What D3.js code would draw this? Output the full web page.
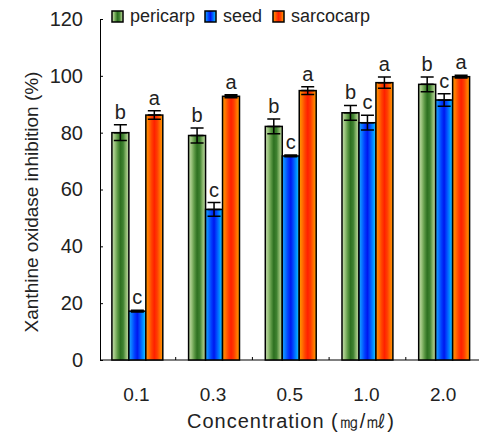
<!DOCTYPE html>
<html>
<head>
<meta charset="utf-8">
<script src="https://cdn.jsdelivr.net/npm/d3@7"></script>
<style>
  body { margin: 0; background: #fff; }
  text { font-family: "Liberation Sans", Arial, sans-serif; fill: #222; }
</style>
</head>
<body>
<script>
let width = 479,
    height = 441;

// data
const concentrations = ["0.1", "0.3", "0.5", "1.0", "2.0"];
const series = ["pericarp", "seed", "sarcocarp"];
const pericarp = [80, 79, 82.2, 87, 97];
const seed = [17.2, 53, 71.8, 83.5, 91.5];
const sarcocarp = [86.2, 92.8, 94.8, 97.6, 99.7];
const pericarpErr = [2.8, 2.6, 2.6, 2.6, 2.6];
const seedErr = [0.3, 2.4, 0.3, 2.6, 2.2];
const sarcocarpErr = [1.5, 0.5, 1.4, 2, 0.5];
const letters = ["b", "c", "a"];
const yTicks = [0, 20, 40, 60, 80, 100, 120];

const values = [pericarp, seed, sarcocarp];
const errors = [pericarpErr, seedErr, sarcocarpErr];

const margin = {top: 19, left: 100, bottom: 360};

const svg = d3.select("body").append("svg")
    .attr("width", width)
    .attr("height", height);

// striped fills
const stripes = {
    pericarp: ["#c4dcae", "#9cc47e", "#5e9a46", "#2d7020", "#3f8230", "#8cb86e", "#c0daa8"],
    seed: ["#1aa8ff", "#0a78ff", "#0040ff", "#0018ee", "#0050ff", "#0090ff", "#20c8ff"],
    sarcocarp: ["#ff9800", "#ff7400", "#ff4400", "#ff2000", "#ff3c00", "#ff7000", "#ff9c00"]
};
const defs = svg.append("defs");
series.forEach(function (s) {
    const grad = defs.append("linearGradient")
        .attr("id", "grad-" + s)
        .attr("x1", 0).attr("x2", 1).attr("y1", 0).attr("y2", 0);
    stripes[s].forEach(function (c, i) {
        grad.append("stop")
            .attr("offset", i / (stripes[s].length - 1))
            .attr("stop-color", c);
    });
});

const x0 = d3.scaleBand()
    .domain(concentrations)
    .range([99, 482.5])
    .padding(0);

const x1 = d3.scaleBand()
    .domain(series)
    .range([0, x0.bandwidth()])
    .paddingInner(0)
    .paddingOuter(0.76);

const y = d3.scaleLinear()
    .domain([0, 120])
    .range([margin.bottom, margin.top]);

// y axis
const yAxis = svg.append("g")
    .attr("transform", "translate(" + margin.left + ",0)")
    .call(d3.axisLeft(y).tickValues(yTicks).tickSize(-3).tickPadding(17));
yAxis.select(".domain").attr("stroke", "#000");
yAxis.selectAll(".tick line").attr("stroke", "#000");
yAxis.selectAll(".tick text")
    .style("font-size", "20px")
    .attr("fill", "#222");

// x axis
const xAxis = svg.append("g")
    .attr("transform", "translate(0," + margin.bottom + ")");
xAxis.append("line")
    .attr("x1", margin.left).attr("x2", width)
    .attr("stroke", "#000");
xAxis.selectAll(".sep")
    .data(concentrations.slice(1))
    .enter().append("line")
    .attr("x1", d => x0(d)).attr("x2", d => x0(d))
    .attr("y1", 0).attr("y2", -3)
    .attr("stroke", "#000");
xAxis.selectAll(".lbl")
    .data(concentrations)
    .enter().append("text")
    .attr("x", d => x0(d) + x0.bandwidth() / 2 - 1)
    .attr("y", 41)
    .attr("text-anchor", "middle")
    .style("font-size", "19px")
    .text(d => d);

// bars
const groups = svg.append("g").selectAll("g")
    .data(concentrations)
    .enter().append("g")
    .attr("transform", d => "translate(" + x0(d) + ",0)");

const cells = groups.selectAll("g")
    .data((d, i) => series.map((s, k) => ({s: s, k: k, v: values[k][i], e: errors[k][i]})))
    .enter().append("g");

cells.append("rect")
    .attr("x", d => x1(d.s))
    .attr("y", d => y(d.v))
    .attr("width", x1.bandwidth())
    .attr("height", d => y(0) - y(d.v))
    .attr("fill", d => "url(#grad-" + d.s + ")")
    .attr("stroke", "#000")
    .attr("stroke-width", 1.5);

const capW = 6.5;
cells.append("path")
    .attr("d", function (d) {
        const cx = x1(d.s) + x1.bandwidth() / 2;
        const t = y(d.v + d.e), b = y(d.v - d.e);
        return "M" + cx + "," + t + "V" + b +
            "M" + (cx - capW) + "," + t + "H" + (cx + capW) +
            "M" + (cx - capW) + "," + b + "H" + (cx + capW) +
            "M" + (cx - capW) + "," + y(d.v) + "H" + (cx + capW);
    })
    .attr("stroke", "#000")
    .attr("stroke-width", 1.5)
    .attr("fill", "none");

cells.append("text")
    .attr("x", d => x1(d.s) + x1.bandwidth() / 2)
    .attr("y", d => y(d.v + d.e) - 6)
    .attr("text-anchor", "middle")
    .style("font-size", "20px")
    .text(d => letters[d.k]);

// legend
const legend = svg.append("g")
    .attr("transform", "translate(112,11)");
const legendX = [0, 93, 161];
series.forEach(function (s, i) {
    const item = legend.append("g")
        .attr("transform", "translate(" + legendX[i] + ",0)");
    item.append("rect")
        .attr("width", 11).attr("height", 11)
        .attr("fill", "url(#grad-" + s + ")")
        .attr("stroke", "#000")
        .attr("stroke-width", 1.5);
    item.append("text")
        .attr("x", 18).attr("y", 11)
        .style("font-size", "18px")
        .text(s);
});

// axis titles
svg.append("text")
    .attr("transform", "translate(38,202) rotate(-90)")
    .attr("text-anchor", "middle")
    .style("font-size", "19px")
    .text("Xanthine oxidase inhibition (%)");

svg.append("text")
    .attr("x", 291)
    .attr("y", 428)
    .attr("text-anchor", "middle")
    .style("font-size", "20px")
    .style("letter-spacing", "1px")
    .text("Concentration (㎎/㎖)");
</script>
</body>
</html>
